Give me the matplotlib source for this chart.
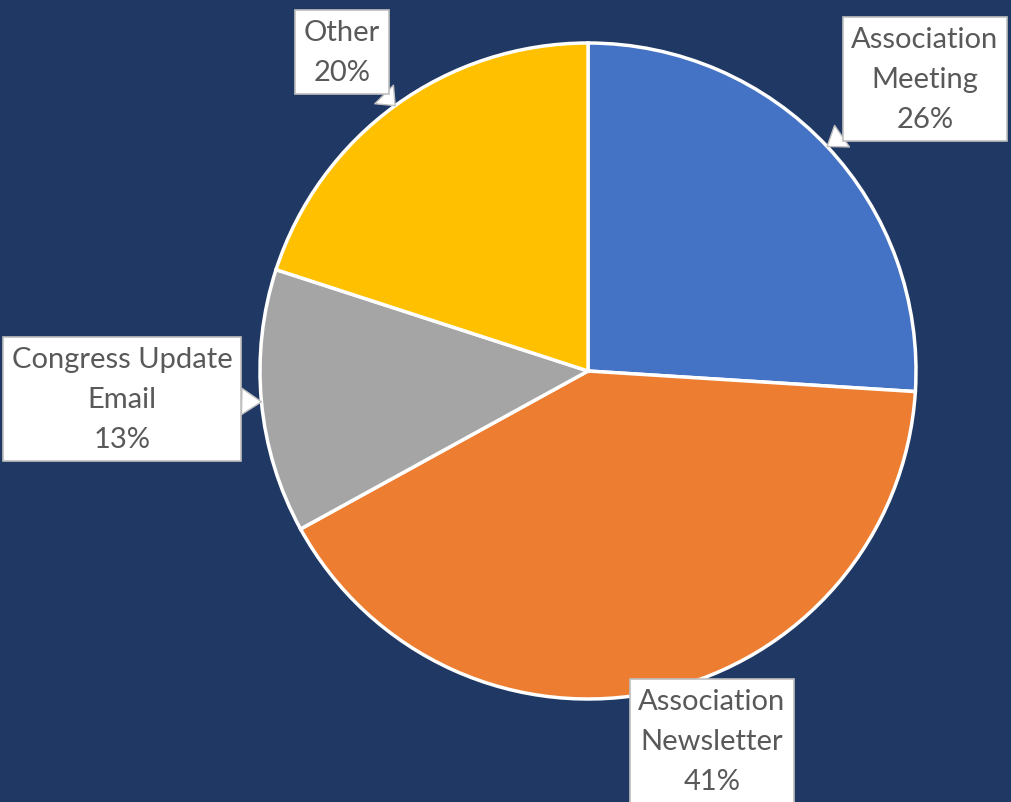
import numpy as np
import matplotlib.pyplot as plt

# Data
labels = ['Association\nMeeting', 'Association\nNewsletter', 'Congress Update\nEmail', 'Other']
shares = [26, 41, 13, 20]
colors = ['#4472C4', '#ED7D31', '#A5A5A5', '#FFC000']

# label box centres (pixels, y from bottom)
label_pos = [(925, 723), (712, 61), (122, 403), (342, 750)]

bg = '#203864'
W, H = 1012, 803
cx, cy, r = 588, 431, 328

fig = plt.figure(figsize=(W / 100, H / 100), dpi=100, facecolor=bg)
ax = fig.add_axes([0, 0, 1, 1])
ax.set_facecolor(bg)

wedges, _ = ax.pie(shares, colors=colors, startangle=90, counterclock=False,
                   center=(cx, cy), radius=r,
                   wedgeprops=dict(edgecolor='white', linewidth=2.5))
ax.set_xlim(0, W)
ax.set_ylim(0, H)
ax.set_aspect('equal')
ax.axis('off')

total = sum(shares)
cum = 0
for lab, val, (lx, ly) in zip(labels, shares, label_pos):
    mid = 90 - (cum + val / 2) / total * 360
    cum += val
    tx = cx + r * np.cos(np.radians(mid))
    ty = cy + r * np.sin(np.radians(mid))
    ax.annotate(f'{lab}\n{val}%', xy=(tx, ty), xytext=(lx, ly),
                ha='center', va='center', fontsize=21, color='#595959',
                family='Lato', linespacing=1.68,
                bbox=dict(boxstyle='square,pad=0.3', fc='white', ec='#BFBFBF', lw=1.2),
                arrowprops=dict(arrowstyle='wedge,tail_width=0.9,shrink_factor=0.5',
                                fc='white', ec='#BFBFBF', lw=1.0, shrinkA=0, shrinkB=0))

fig.savefig('out.png', dpi=100, facecolor=bg)
